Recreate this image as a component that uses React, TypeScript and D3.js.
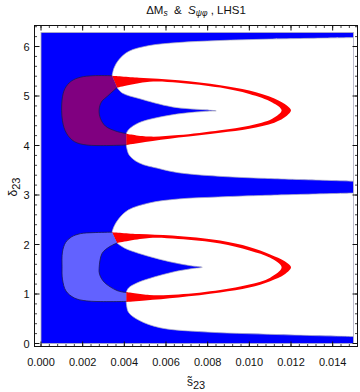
import * as d3 from "d3";

const W = 360;
const H = 392;
const frame = { left: 34.5, right: 357.5, top: 25.5, bottom: 346.5 };

const xMajor = [0, 0.002, 0.004, 0.006, 0.008, 0.01, 0.012, 0.014];
const yMajor = [0, 1, 2, 3, 4, 5, 6];

// boundaries, [s23, delta23]
const topBandEdge = [
  [0.015, 6.18], [0.011, 6.15], [0.0085, 6.12], [0.0066, 6.08], [0.0052, 6.02],
  [0.0042, 5.9], [0.00375, 5.74], [0.00351, 5.57], [0.00341, 5.41],
];
const topSpike = [
  [0.00365, 5.17], [0.0039, 5.06], [0.0047, 4.95], [0.0063, 4.78], [0.0079, 4.72], [0.00841, 4.7],
  [0.0079, 4.69], [0.0063, 4.62], [0.0047, 4.46], [0.0042, 4.32], [0.00409, 4.24],
];
const midBandUpper = [
  [0.00409, 4.01], [0.00423, 3.81], [0.0047, 3.65], [0.0057, 3.53], [0.0066, 3.45],
  [0.0085, 3.38], [0.0105, 3.34], [0.015, 3.28],
];
const midBandLower = [
  [0.015, 3.04], [0.0105, 2.99], [0.0085, 2.96], [0.0066, 2.92], [0.0052, 2.84],
  [0.0042, 2.7], [0.00375, 2.53], [0.00351, 2.37], [0.00341, 2.25],
];
const bottomSpike = [
  [0.00365, 2.03], [0.004, 1.93], [0.0047, 1.82], [0.0063, 1.64], [0.0072, 1.57], [0.00774, 1.54],
  [0.0072, 1.51], [0.0063, 1.44], [0.0047, 1.24], [0.0042, 1.12], [0.00409, 1.03],
];
const bottomBandEdge = [
  [0.00409, 0.85], [0.0042, 0.63], [0.0047, 0.47], [0.0057, 0.32], [0.0076, 0.24],
  [0.0114, 0.18], [0.015, 0.14],
];

const topRedOuter = [
  [0.00341, 5.41], [0.0047, 5.37], [0.0066, 5.32], [0.0086, 5.22], [0.01, 5.11], [0.0112, 4.95],
  [0.0118, 4.81], [0.012, 4.71], [0.0118, 4.6], [0.0112, 4.46], [0.01, 4.34], [0.0086, 4.26],
  [0.0066, 4.16], [0.005, 4.07], [0.00409, 4.01],
];
const topRedInner = [
  [0.00409, 4.24], [0.0052, 4.18], [0.0066, 4.21], [0.0086, 4.31], [0.01, 4.4], [0.0111, 4.54],
  [0.01155, 4.71], [0.0111, 4.87], [0.01, 5.04], [0.0086, 5.17], [0.0066, 5.27], [0.0052, 5.29],
  [0.00365, 5.17],
];
const bottomRedOuter = [
  [0.00341, 2.25], [0.0047, 2.21], [0.0063, 2.18], [0.0086, 2.08], [0.01, 1.95], [0.011, 1.8],
  [0.0117, 1.66], [0.012, 1.54], [0.0117, 1.4], [0.011, 1.26], [0.01, 1.13], [0.0086, 1.03],
  [0.0066, 0.93], [0.005, 0.87], [0.00409, 0.84],
];
const bottomRedInner = [
  [0.00409, 1.04], [0.0052, 0.98], [0.0066, 0.99], [0.0086, 1.08], [0.01, 1.19], [0.011, 1.33],
  [0.01155, 1.54], [0.011, 1.73], [0.01, 1.88], [0.0086, 2.02], [0.0066, 2.11], [0.0052, 2.13],
  [0.00365, 2.03],
];

const purpleOuter = [
  [0.00341, 5.41], [0.0025, 5.41], [0.0019, 5.38], [0.00145, 5.3], [0.00115, 5.15], [0.00101, 4.92],
  [0.00103, 4.5], [0.00122, 4.25], [0.0016, 4.08], [0.0022, 4.01], [0.00409, 4.01],
];
const purpleInner = [
  [0.00409, 4.24], [0.0036, 4.29], [0.0031, 4.39], [0.00285, 4.55], [0.00279, 4.72],
  [0.0029, 4.88], [0.0032, 5.0], [0.00365, 5.17],
];
const lilacOuter = [
  [0.00341, 2.25], [0.0025, 2.24], [0.0019, 2.22], [0.00145, 2.15], [0.00118, 2.04], [0.00103, 1.85],
  [0.00101, 1.55], [0.00103, 1.3], [0.0012, 1.06], [0.0016, 0.92], [0.0022, 0.86], [0.00409, 0.85],
];
const lilacInner = [
  [0.00409, 1.03], [0.00365, 1.07], [0.00303, 1.24], [0.00281, 1.4], [0.00279, 1.52],
  [0.00293, 1.82], [0.00327, 1.95], [0.00365, 2.03],
];

const x = d3.scaleLinear().domain([0, 0.015]).range([41, 353.5]);
const y = d3.scaleLinear().domain([0, 2 * Math.PI]).range([343.5, 32.5]);

const lineGen = d3
  .line<number[]>()
  .x((d) => x(d[0]))
  .y((d) => y(d[1]))
  .curve(d3.curveCatmullRom.alpha(0.5));

// segments joined by straight pieces, then closed
const joinPath = (...segs: number[][][]) =>
  segs
    .map((s, i) => {
      const p = lineGen(s) as string;
      return i === 0 ? p : "L" + p.slice(1);
    })
    .join("") + "Z";

const fmt = d3.format(".3f");
const font = "Liberation Sans, Arial, sans-serif";

export default function App() {
  const xMinor = d3.range(0, 0.0153, 0.0004).filter((v) => x(v) < frame.right - 1);
  const yMinor = d3.range(0, 6.5, 0.2).filter((v) => y(v) > frame.top + 1);
  const edge = "#b0b0c0";
  const outline = "#1c1c50";

  return (
    <div style={{ position: "fixed", left: 0, top: 0 }}>
      <svg width={W} height={H} style={{ display: "block", background: "#fff" }}>
        <rect
          x={x(0)}
          y={y(2 * Math.PI)}
          width={x(0.015) - x(0)}
          height={y(0) - y(2 * Math.PI)}
          fill="#0000ff"
          stroke={edge}
          strokeWidth={0.8}
        />
        <path d={joinPath(topBandEdge, topSpike, midBandUpper)} fill="#fff" stroke={edge} strokeWidth={0.7} />
        <path d={joinPath(midBandLower, bottomSpike, bottomBandEdge)} fill="#fff" stroke={edge} strokeWidth={0.7} />
        <path d={joinPath(topRedOuter, topRedInner)} fill="#ff0000" />
        <path d={joinPath(bottomRedOuter, bottomRedInner)} fill="#ff0000" />
        <path d={joinPath(purpleOuter, purpleInner)} fill="#800080" />
        <path d={joinPath(lilacOuter, lilacInner)} fill="#6262ff" />
        {[purpleOuter, purpleInner, lilacOuter, lilacInner].map((s, i) => (
          <path key={i} d={lineGen(s) as string} fill="none" stroke={outline} strokeWidth={0.8} />
        ))}

        <rect
          x={frame.left}
          y={frame.top}
          width={frame.right - frame.left}
          height={frame.bottom - frame.top}
          fill="none"
          stroke="#111"
          strokeWidth={1}
        />
        {xMinor.map((v, i) => (
          <g key={"xm" + i} stroke="#111" strokeWidth={0.8}>
            <line x1={x(v)} x2={x(v)} y1={frame.bottom} y2={frame.bottom - 2.5} />
            <line x1={x(v)} x2={x(v)} y1={frame.top} y2={frame.top + 2.5} />
          </g>
        ))}
        {xMajor.map((v, i) => (
          <g key={"xM" + i}>
            <line x1={x(v)} x2={x(v)} y1={frame.bottom} y2={frame.bottom - 5} stroke="#111" />
            <line x1={x(v)} x2={x(v)} y1={frame.top} y2={frame.top + 5} stroke="#111" />
            <text x={x(v)} y={frame.bottom + 19} textAnchor="middle" fontSize={11} fontFamily={font} fill="#111">
              {fmt(v)}
            </text>
          </g>
        ))}
        {yMinor.map((v, i) => (
          <g key={"ym" + i} stroke="#111" strokeWidth={0.8}>
            <line x1={frame.left} x2={frame.left + 2.5} y1={y(v)} y2={y(v)} />
            <line x1={frame.right} x2={frame.right - 2.5} y1={y(v)} y2={y(v)} />
          </g>
        ))}
        {yMajor.map((v, i) => (
          <g key={"yM" + i}>
            <line x1={frame.left} x2={frame.left + 5} y1={y(v)} y2={y(v)} stroke="#111" />
            <line x1={frame.right} x2={frame.right - 5} y1={y(v)} y2={y(v)} stroke="#111" />
            <text x={frame.left - 5} y={y(v) + 4} textAnchor="end" fontSize={11} fontFamily={font} fill="#111">
              {v}
            </text>
          </g>
        ))}

        <text x={196} y={14} textAnchor="middle" fontSize={11.5} fontFamily={font} fill="#111" style={{ whiteSpace: "pre" }}>
          ΔM<tspan fontSize={8.5} dy={2} fontStyle="italic">s</tspan>
          <tspan dy={-2}>{"  &  "}</tspan>
          <tspan fontStyle="italic">S</tspan>
          <tspan fontSize={8.5} dy={2} fontStyle="italic">ψφ</tspan>
          <tspan dy={-2}>{" , LHS1"}</tspan>
        </text>

        <text x={196} y={386} textAnchor="middle" fontSize={12} fontFamily={font} fill="#111">
          {"s\u0303"}
          <tspan fontSize={11} dy={3}>{"23"}</tspan>
        </text>
        <text
          transform="translate(17,187) rotate(-90)"
          textAnchor="middle"
          fontSize={12}
          fontFamily={font}
          fill="#111"
        >
          δ<tspan fontSize={11} dy={3}>{"23"}</tspan>
        </text>
      </svg>
    </div>
  );
}
